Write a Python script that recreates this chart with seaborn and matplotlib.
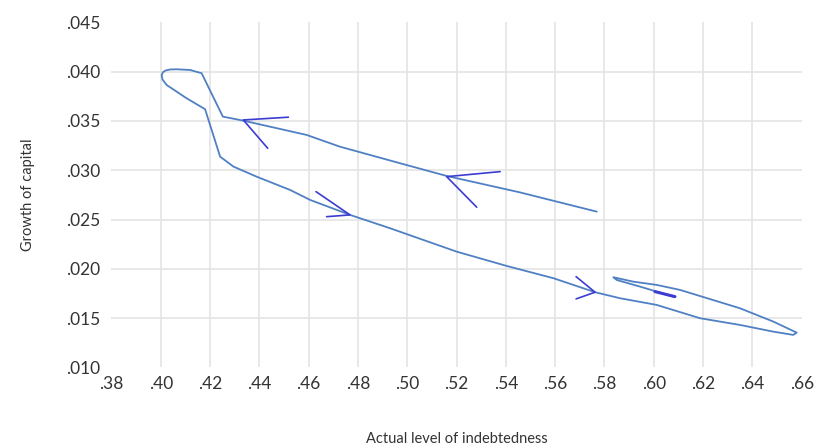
import seaborn as sns
import pandas as pd
import matplotlib.pyplot as plt

# trajectory, in drawing order (starts at upper-right end of the upper branch)
debt = [0.5769, 0.5458, 0.5160, 0.4971, 0.4727, 0.4592, 0.4335, 0.4252,
        0.4166, 0.4119, 0.4065, 0.4038, 0.4020, 0.4009, 0.4004, 0.4007,
        0.4024, 0.4105, 0.4180,
        0.4241, 0.4295, 0.4389, 0.4525, 0.4606, 0.4768, 0.4930, 0.5201,
        0.5404, 0.5593, 0.5762, 0.5863, 0.6012, 0.6188, 0.6350, 0.6485,
        0.6566, 0.6580, 0.6485, 0.6350, 0.6107, 0.6012, 0.5917, 0.5836,
        0.5850, 0.5944, 0.6080]
growth = [0.0258, 0.02775, 0.02942, 0.03071, 0.03239, 0.03358, 0.03503, 0.03544,
          0.03984, 0.04017, 0.04024, 0.04022, 0.04012, 0.03994, 0.03965, 0.03921,
          0.03865, 0.0373, 0.03619,
          0.03138, 0.03037, 0.02935, 0.0280, 0.02699, 0.02547, 0.02412, 0.02174,
          0.02029, 0.01905, 0.01763, 0.01702, 0.01634, 0.01499, 0.01431, 0.01363,
          0.0133, 0.01353, 0.01465, 0.0160, 0.01786, 0.01837, 0.0187, 0.01915,
          0.01887, 0.0182, 0.01718]

# hand-drawn direction arrows: (arm1 end, tip, arm2 end)
arrows_x = [[0.4518, 0.4335, 0.4434],
            [0.5377, 0.5160, 0.5282],
            [0.4673, 0.4768, 0.4630],
            [0.5685, 0.5762, 0.5685]]
arrows_y = [[0.03538, 0.0351, 0.03223],
            [0.02986, 0.02935, 0.02625],
            [0.02529, 0.02547, 0.02783],
            [0.01921, 0.01763, 0.01695]]
dash_x = [0.6005, 0.6086]
dash_y = [0.01769, 0.01718]

xticks = [0.38, 0.40, 0.42, 0.44, 0.46, 0.48, 0.50, 0.52, 0.54, 0.56, 0.58, 0.60, 0.62, 0.64, 0.66]
yticks = [0.010, 0.015, 0.020, 0.025, 0.030, 0.035, 0.040, 0.045]

sns.set_style("whitegrid")
plt.rcParams['font.family'] = ['Lato', 'DejaVu Sans']

df = pd.DataFrame({"debt": debt, "growth": growth})

fig = plt.figure(figsize=(8.18, 4.47), dpi=100)
ax = fig.add_axes([0.1362, 0.178, 0.8438, 0.772])

sns.lineplot(data=df, x="debt", y="growth", sort=False, estimator=None,
             color="#5080c4", linewidth=1.3, ax=ax)
for ax_, ay_ in zip(arrows_x, arrows_y):
    ax.plot(ax_, ay_, color="#3c3cd2", linewidth=1.2)
ax.plot(dash_x, dash_y, color="#3c3cd2", linewidth=2.2)

ax.set_xlim(0.38, 0.66)
ax.set_ylim(0.010, 0.045)
ax.set_xticks(xticks)
ax.set_yticks(yticks)
ax.set_xticklabels(["." + f"{v:.2f}".split(".")[1] for v in xticks])
ax.set_yticklabels(["." + f"{v:.3f}".split(".")[1] for v in yticks])
ax.tick_params(length=0, labelsize=12.5, labelcolor="#333333")
ax.tick_params(axis="y", pad=8)
ax.tick_params(axis="x", pad=6)

ax.grid(True, color="#e4e4e4", linewidth=1.2)
for t in (ax.xaxis.get_major_ticks()[0], ax.xaxis.get_major_ticks()[-1],
          ax.yaxis.get_major_ticks()[0], ax.yaxis.get_major_ticks()[-1]):
    t.gridline.set_visible(False)
for s in ax.spines.values():
    s.set_visible(False)

ax.set_xlabel("Actual level of indebtedness", fontsize=10.5, color="#333333", labelpad=29)
ax.set_ylabel("Growth of capital", fontsize=10.5, color="#333333", labelpad=22)

plt.savefig("out.png", dpi=100)
